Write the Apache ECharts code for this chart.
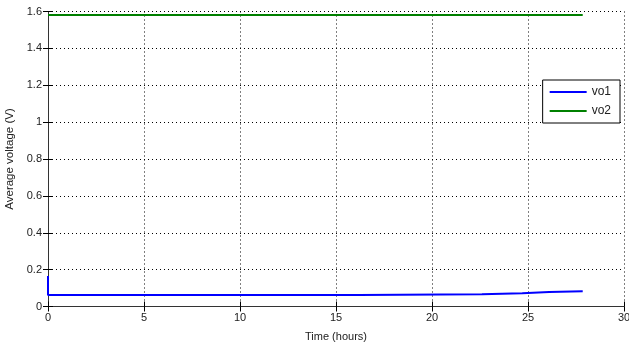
<!DOCTYPE html>
<html>
<head>
<meta charset="utf-8">
<script src="https://cdn.jsdelivr.net/npm/echarts@6/dist/echarts.min.js"></script>
<style>
  html, body { margin: 0; padding: 0; background: #fff; }
  #chart { width: 629px; height: 349px; }
</style>
</head>
<body>
<div id="chart"></div>
<script>
// Average output voltage over time for two channels
const seriesNames = ['vo1', 'vo2'];
const vo1Points = [
  [0, 0.165], [0, 0.062], [16.2, 0.062], [16.2, 0.065],
  [22.6, 0.066], [22.6, 0.068], [24.7, 0.072], [26.1, 0.078], [27.85, 0.083]
];
const vo2Points = [[0, 1.581], [27.85, 1.581]];
const xTicks = [0, 5, 10, 15, 20, 25, 30];
const yTicks = [0, 0.2, 0.4, 0.6, 0.8, 1, 1.2, 1.4, 1.6];

const font = 'Liberation Sans, Arial, sans-serif';
const chart = echarts.init(document.getElementById('chart'));

const gridLine = { show: true, lineStyle: { color: '#000', type: [1, 3], width: 1 } };
const axisLineStyle = { show: true, lineStyle: { color: '#333', width: 1 } };
const tickInside = { show: true, inside: true, length: 5, lineStyle: { color: '#000' } };

chart.setOption({
  animation: false,
  backgroundColor: '#fff',
  grid: { left: 48, right: 5, top: 11.5, bottom: 42.5, containLabel: false, outerBoundsMode: 'none' },
  legend: {
    right: 9, top: 80,
    orient: 'vertical',
    data: seriesNames,
    itemWidth: 37, itemHeight: 2, itemGap: 7,
    icon: 'rect',
    backgroundColor: '#fff',
    borderColor: '#000', borderWidth: 1,
    padding: [6, 9, 6, 7],
    textStyle: { fontFamily: font, fontSize: 12, color: '#222', padding: [0, 0, 0, 0] }
  },
  xAxis: [
    {
      type: 'value', min: xTicks[0], max: xTicks[xTicks.length - 1], interval: 5,
      name: 'Time (hours)', nameLocation: 'middle', nameGap: 25,
      nameTextStyle: { fontFamily: font, fontSize: 11, color: '#222' },
      axisLine: axisLineStyle, axisTick: tickInside,
      axisLabel: { fontFamily: font, fontSize: 11, color: '#222', margin: 6 },
      splitLine: gridLine
    },
    {
      type: 'value', position: 'top', min: xTicks[0], max: xTicks[xTicks.length - 1], interval: 5,
      axisLine: axisLineStyle, axisTick: tickInside,
      axisLabel: { show: false }, splitLine: { show: false }
    }
  ],
  yAxis: [
    {
      type: 'value', min: yTicks[0], max: yTicks[yTicks.length - 1], interval: 0.2,
      name: 'Average voltage (V)', nameLocation: 'middle', nameGap: 29,
      nameTextStyle: { fontFamily: font, fontSize: 11.5, color: '#222' },
      axisLine: axisLineStyle, axisTick: tickInside,
      axisLabel: {
        fontFamily: font, fontSize: 11, color: '#222', margin: 6,
        formatter: v => String(Math.round(v * 10) / 10)
      },
      splitLine: gridLine
    },
    {
      type: 'value', position: 'right', min: yTicks[0], max: yTicks[yTicks.length - 1], interval: 0.2,
      axisLine: axisLineStyle, axisTick: tickInside,
      axisLabel: { show: false }, splitLine: { show: false }
    }
  ],
  series: [
    {
      name: seriesNames[0], type: 'line', data: vo1Points, showSymbol: false,
      lineStyle: { color: '#0000ff', width: 2 }, itemStyle: { color: '#0000ff' }, z: 3
    },
    {
      name: seriesNames[1], type: 'line', data: vo2Points, showSymbol: false,
      lineStyle: { color: '#008000', width: 2 }, itemStyle: { color: '#008000' }, z: 3
    }
  ]
});
</script>
</body>
</html>
